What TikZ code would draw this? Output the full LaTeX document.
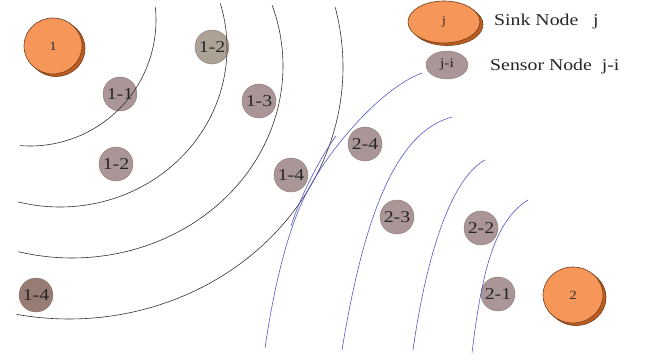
\documentclass[tikz,border=0pt]{standalone}
\usepackage{fontspec}
\setmainfont{Liberation Serif}[FakeStretch=1.2]
\usetikzlibrary{shapes.geometric,shadows}
\definecolor{sinkfill}{RGB}{246,150,88}
\definecolor{sinkdark}{RGB}{190,92,30}
\definecolor{sinkline}{RGB}{110,60,30}
\definecolor{sensfill}{RGB}{170,150,150}
\definecolor{sensline}{RGB}{140,120,118}
\definecolor{sensgrey}{RGB}{172,162,150}
\definecolor{sensdark}{RGB}{150,124,114}
\definecolor{arcblack}{RGB}{50,50,50}
\definecolor{arcblue}{RGB}{88,88,200}
\tikzset{
  sink/.style={ellipse, fill=sinkfill, draw=sinkline, line width=0.6pt,
    copy shadow={shadow xshift=3pt, shadow yshift=-2.5pt, fill=sinkdark, draw=sinkline},
    inner sep=0pt, font=\fontsize{12.5}{12.5}\selectfont, text=black!80},
  sensor/.style={circle, fill=sensfill, draw=sensline, line width=0.4pt,
    minimum size=34pt, inner sep=0pt, font=\fontsize{16.5}{16.5}\selectfont, text=black!85},
  legendtext/.style={anchor=west, inner sep=0pt, font=\fontsize{16.5}{16.5}\selectfont, text=black!85},
  blackarc/.style={draw=arcblack, line width=0.6pt},
  bluearc/.style={draw=arcblue, line width=0.6pt}
}
\begin{document}
\begin{tikzpicture}[x=1pt,y=-1pt]
\useasboundingbox (0,0) rectangle (658,363);
\fill[white] (0,0) rectangle (658,363);
% sinks
\node[sink, minimum width=58pt, minimum height=56pt] (sink1) at (53,46) {1};
\node[sink, minimum width=60pt, minimum height=56pt] (sink2) at (573,295) {2};
% legend
\node[sink, minimum width=72pt, minimum height=42pt] (legsink) at (444,22) {j};
\node[legendtext] (legsinktext) at (494,22) {Sink Node\ \ \ j};
\node[sensor, ellipse, minimum width=42pt, minimum height=28pt, font=\fontsize{13}{13}\selectfont] (legsens) at (447,65) {j-i};
\node[legendtext] (legsenstext) at (490,67) {Sensor Node\ \ j-i};
% sensors field 1
\node[sensor, fill=sensgrey] (n12a) at (212,47) {1-2};
\node[sensor] (n11) at (120,94) {1-1};
\node[sensor] (n13) at (259,101) {1-3};
\node[sensor] (n12b) at (116,164) {1-2};
\node[sensor] (n14a) at (291,175) {1-4};
\node[sensor, fill=sensdark] (n14b) at (36,295) {1-4};
% sensors field 2
\node[sensor] (n24) at (365,144) {2-4};
\node[sensor] (n23) at (397,217) {2-3};
\node[sensor] (n22) at (481,228) {2-2};
\node[sensor] (n21) at (498,294) {2-1};
% black arcs around sink 1
\draw[blackarc] plot[domain=-5.9:94.55, samples=80] ({30+126*cos(\x)}, {20+126*sin(\x)});
\draw[blackarc] plot[domain=-16.3:104.5, samples=90] ({60+167*cos(\x)}, {48+159*sin(\x)});
\draw[blackarc] plot[domain=-18.5:104.7, samples=100] ({72+211*cos(\x)}, {66+192*sin(\x)});
\draw[blackarc] plot[domain=-13.8:101, samples=120] ({69+274*cos(\x)}, {67+252*sin(\x)});
% blue arcs around sink 2
\coordinate (b1s) at (422,73);
\coordinate (b1m) at (303,200);
\coordinate (b1e) at (265,348);
\draw[bluearc] (b1s) .. controls (379.7,88.3) and (324,154.5) .. (b1m)
                     .. controls (284.1,241) and (272.2,298.5) .. (b1e);
\coordinate (b1bs) at (336,136);
\coordinate (b1be) at (291,226);
\draw[bluearc] (b1bs) .. controls (322,155) and (302,192) .. (b1be);
\coordinate (b2s) at (452,117);
\coordinate (b2e) at (342,350);
\draw[bluearc] (b2s) .. controls (394.4,132.6) and (363.3,220) .. (b2e);
\coordinate (b3s) at (485,160);
\coordinate (b3e) at (413,350);
\draw[bluearc] (b3s) .. controls (450,179) and (425.6,260) .. (b3e);
\coordinate (b4s) at (528,200);
\coordinate (b4e) at (472,353);
\draw[bluearc] (b4s) .. controls (494,221) and (481.6,273) .. (b4e);
\end{tikzpicture}
\end{document}
